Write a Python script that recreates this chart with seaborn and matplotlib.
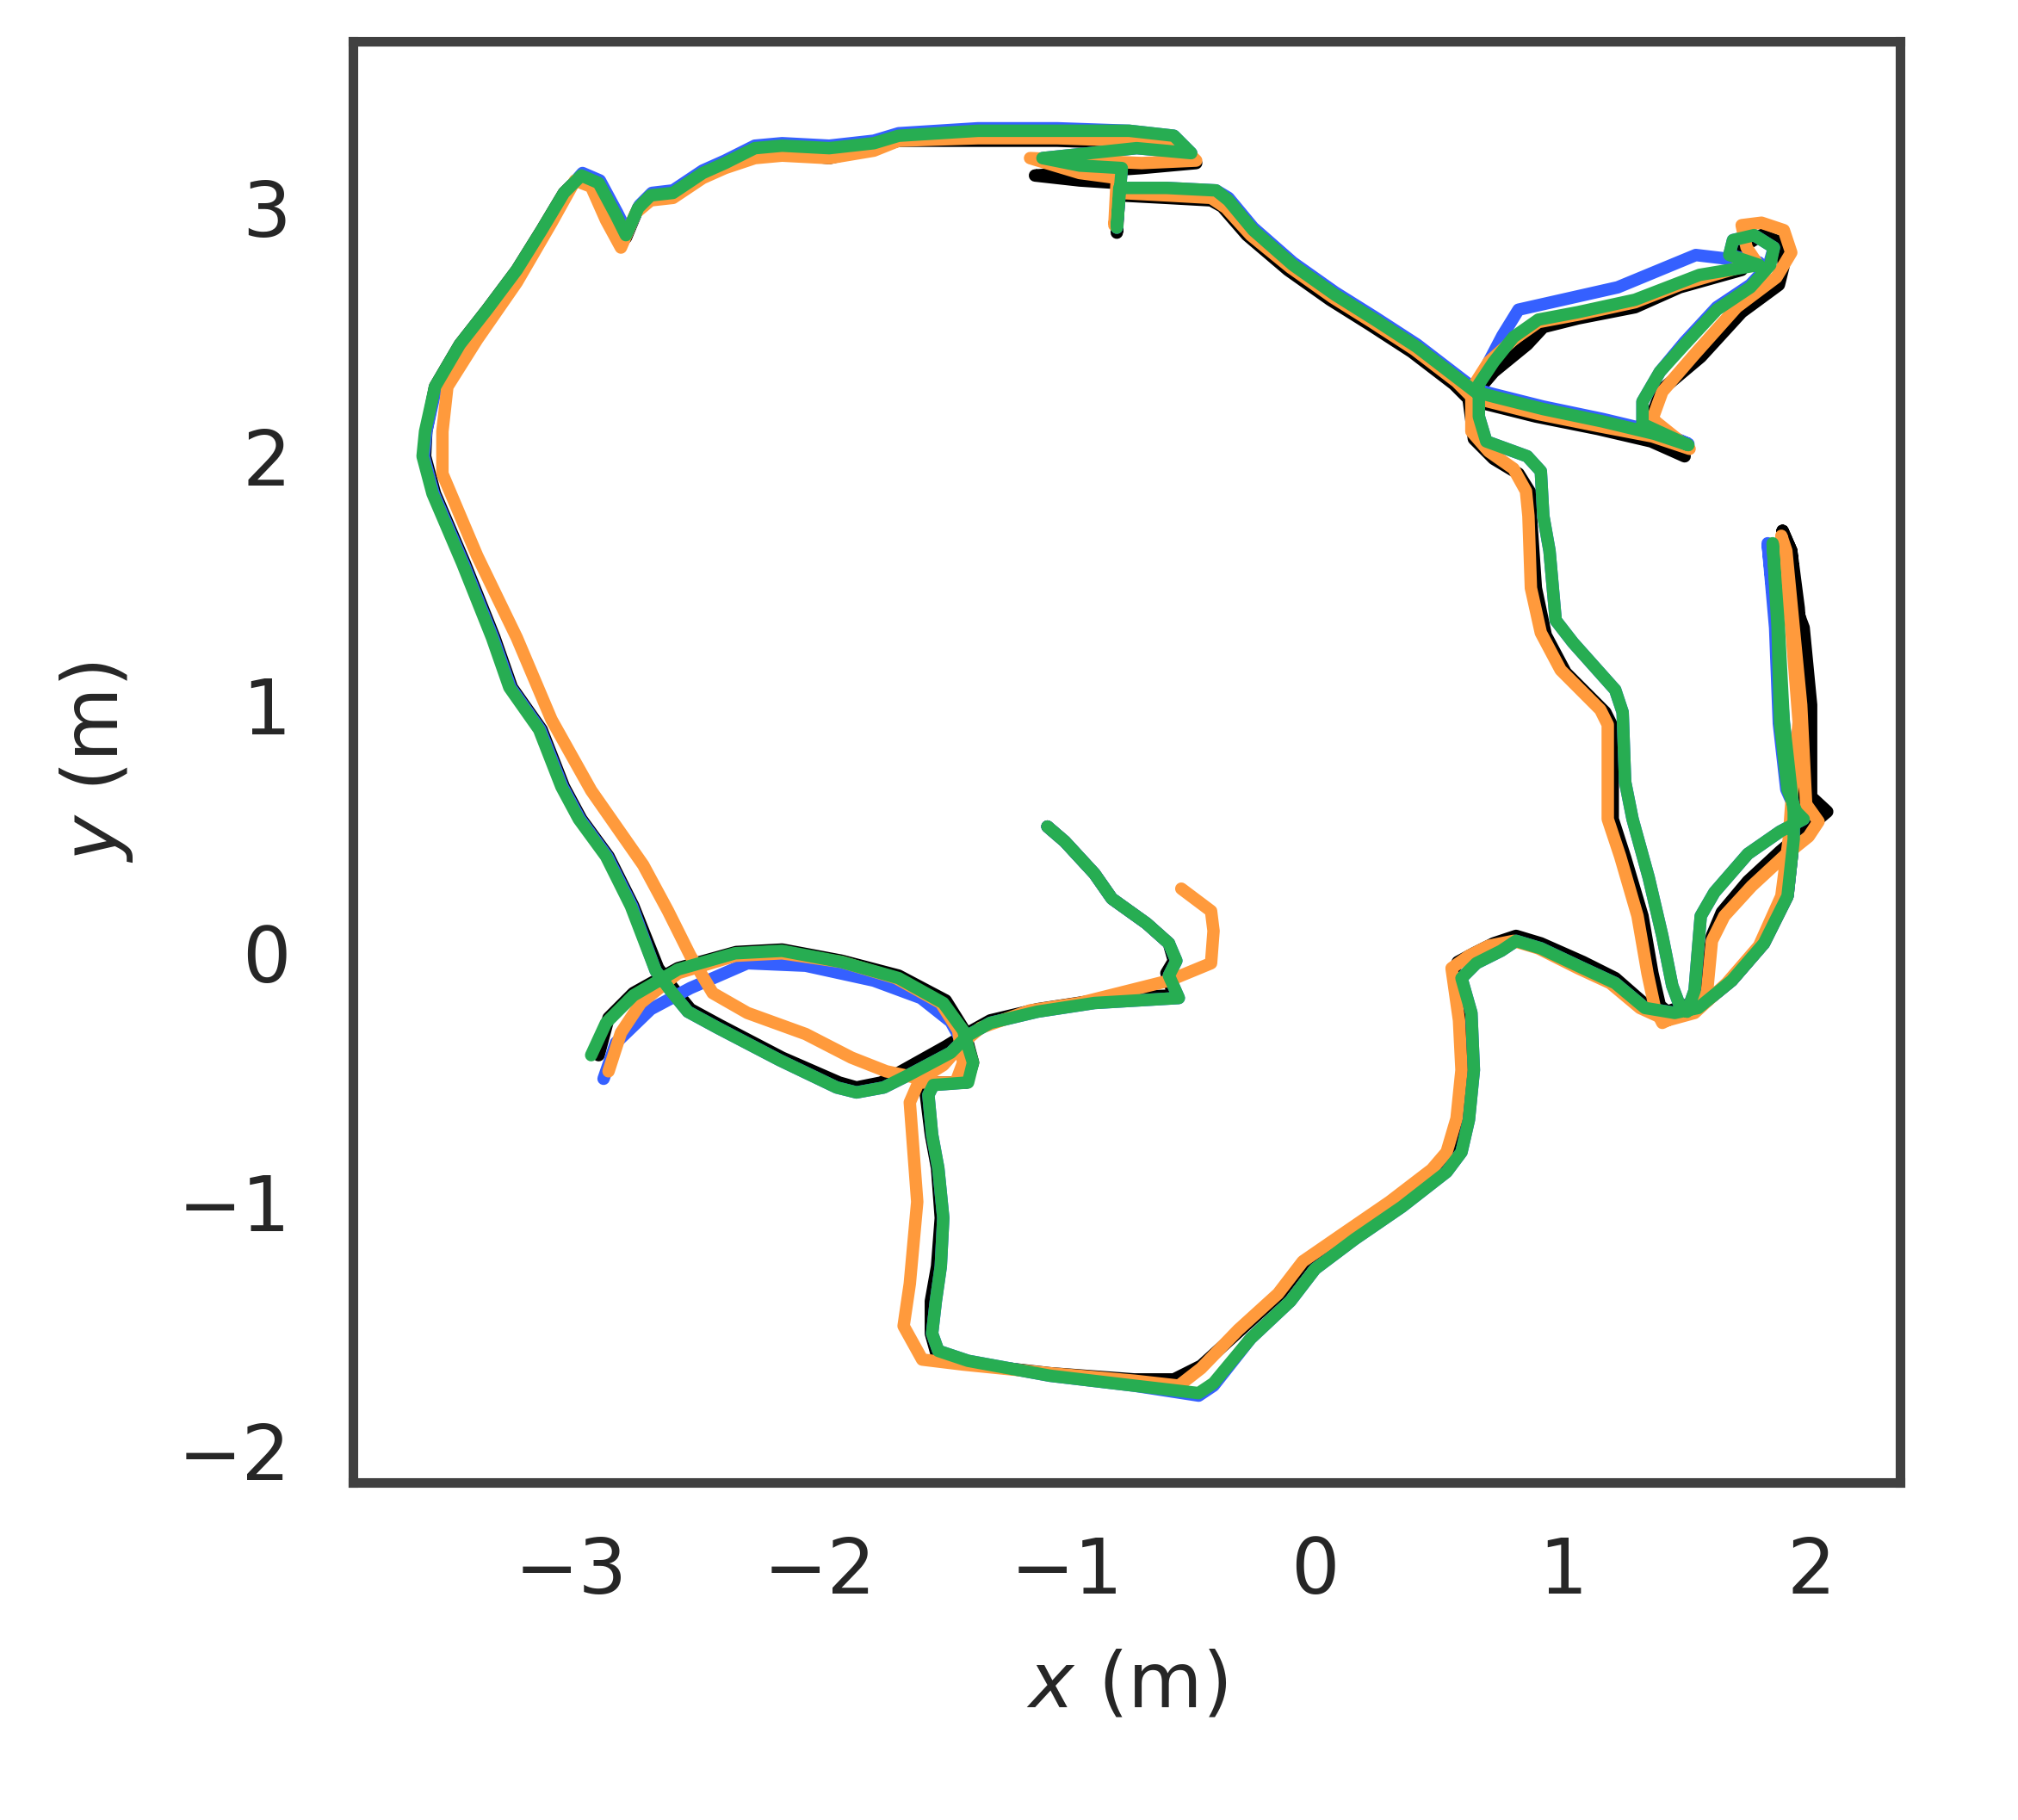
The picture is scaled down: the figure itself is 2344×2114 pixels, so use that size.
import numpy as np
import pandas as pd
import matplotlib
matplotlib.use("Agg")
import matplotlib.pyplot as plt
import seaborn as sns

# ------------------------------------------------------------------
# trajectories (x, y in metres)
# ------------------------------------------------------------------
ground_truth_xy = [
    (-1.08, 0.51), (-1.01, 0.45), (-0.89, 0.32), (-0.82, 0.22), (-0.68, 0.12), (-0.59, 0.04),
    (-0.57, -0.03), (-0.60, -0.08), (-0.57, -0.17),
    (-0.72, -0.175), (-0.89, -0.19), (-1.12, -0.225), (-1.31, -0.27), (-1.40, -0.32),
    (-1.49, -0.375), (-1.66, -0.47), (-1.75, -0.52), (-1.85, -0.54),
    (-1.92, -0.52), (-2.15, -0.42), (-2.40, -0.29), (-2.52, -0.225), (-2.59, -0.14), (-2.65, -0.06),
    (-2.75, 0.19), (-2.85, 0.39), (-2.96, 0.54), (-3.03, 0.67), (-3.12, 0.90), (-3.24, 1.07),
    (-3.31, 1.27), (-3.43, 1.57), (-3.55, 1.85), (-3.59, 2.00), (-3.585, 2.10), (-3.55, 2.28),
    (-3.45, 2.45), (-3.34, 2.59), (-3.22, 2.75), (-3.12, 2.91), (-3.03, 3.06), (-2.96, 3.13),
    (-2.89, 3.10), (-2.82, 2.97), (-2.78, 2.88), (-2.73, 3.00), (-2.68, 3.05), (-2.59, 3.06),
    (-2.47, 3.14), (-2.38, 3.18), (-2.26, 3.22), (-2.15, 3.22), (-1.96, 3.20), (-1.78, 3.24),
    (-1.68, 3.27), (-1.36, 3.27), (-1.04, 3.27),
    (-0.75, 3.26), (-0.55, 3.25), (-0.48, 3.18), (-0.70, 3.16), (-1.13, 3.13), (-0.95, 3.11),
    (-0.80, 3.10), (-0.80, 2.90), (-0.79, 3.05), (-0.60, 3.04), (-0.42, 3.03),
    (-0.375, 3.005), (-0.275, 2.89), (-0.11, 2.75), (0.06, 2.63), (0.22, 2.53), (0.39, 2.42),
    (0.56, 2.29), (0.62, 2.23),
    (0.69, 2.21), (0.89, 2.16), (1.14, 2.11), (1.355, 2.06), (1.49, 2.00),
    (1.355, 2.16), (1.40, 2.27), (1.555, 2.40), (1.72, 2.58), (1.87, 2.69), (1.89, 2.77),
    (1.88, 2.86), (1.80, 2.89), (1.72, 2.84), (1.72, 2.75),
    (1.47, 2.68), (1.29, 2.60), (1.06, 2.555), (0.92, 2.52), (0.855, 2.45), (0.72, 2.34),
    (0.66, 2.27), (0.62, 2.22),
    (0.64, 2.07), (0.72, 1.99), (0.82, 1.93), (0.87, 1.85), (0.87, 1.76), (0.89, 1.47),
    (0.93, 1.28), (1.01, 1.13), (1.17, 0.97), (1.20, 0.91), (1.20, 0.54), (1.25, 0.385),
    (1.32, 0.15), (1.36, -0.08), (1.39, -0.21), (1.42, -0.235),
    (1.52, -0.20), (1.57, -0.175), (1.60, 0.07), (1.64, 0.165), (1.745, 0.29), (1.875, 0.41),
    (1.97, 0.49), (2.065, 0.57), (2.00, 0.63), (2.00, 1.00), (1.97, 1.31), (1.94, 1.39),
    (1.92, 1.62), (1.885, 1.70),
    (1.92, 1.62), (1.95, 1.39), (1.98, 1.00), (1.97, 0.62), (1.93, 0.46),
    (1.905, 0.23), (1.81, 0.04), (1.68, -0.11), (1.545, -0.22), (1.42, -0.235),
    (1.33, -0.205), (1.21, -0.10), (1.08, -0.035), (0.91, 0.04), (0.81, 0.07), (0.72, 0.04),
    (0.64, 0.00), (0.575, -0.035), (0.56, -0.065),
    (0.625, -0.27), (0.615, -0.47), (0.59, -0.665), (0.55, -0.80), (0.49, -0.865), (0.31, -1.00),
    (0.12, -1.13), (-0.04, -1.24), (-0.14, -1.37), (-0.30, -1.515), (-0.46, -1.66),
    (-0.57, -1.715), (-0.73, -1.715), (-1.07, -1.69), (-1.42, -1.65), (-1.525, -1.62),
    (-1.55, -1.53), (-1.55, -1.40), (-1.525, -1.26), (-1.51, -1.065), (-1.525, -0.865),
    (-1.55, -0.73), (-1.57, -0.57), (-1.55, -0.52),
    (-1.405, -0.52), (-1.38, -0.44), (-1.415, -0.31), (-1.49, -0.19), (-1.68, -0.09),
    (-1.91, -0.03), (-2.15, 0.015), (-2.335, 0.005), (-2.57, -0.06), (-2.75, -0.16),
    (-2.85, -0.26), (-2.89, -0.41),
]

green_xy = [
    (-1.08, 0.51), (-1.01, 0.45), (-0.89, 0.32), (-0.82, 0.22), (-0.68, 0.12), (-0.59, 0.04),
    (-0.56, -0.03), (-0.59, -0.09), (-0.55, -0.18),
    (-0.72, -0.19), (-0.89, -0.20), (-1.12, -0.235), (-1.31, -0.28), (-1.40, -0.33),
    (-1.47, -0.40), (-1.64, -0.49), (-1.74, -0.54), (-1.85, -0.56),
    (-1.93, -0.54), (-2.16, -0.43), (-2.41, -0.30), (-2.53, -0.235), (-2.60, -0.15), (-2.66, -0.07),
    (-2.76, 0.19), (-2.86, 0.39), (-2.97, 0.54), (-3.04, 0.67), (-3.13, 0.90), (-3.25, 1.07),
    (-3.32, 1.27), (-3.44, 1.57), (-3.56, 1.85), (-3.60, 2.00), (-3.59, 2.10), (-3.55, 2.28),
    (-3.45, 2.45), (-3.34, 2.59), (-3.22, 2.75), (-3.12, 2.91), (-3.03, 3.06), (-2.96, 3.13),
    (-2.89, 3.10), (-2.82, 2.97), (-2.78, 2.89), (-2.73, 3.00), (-2.68, 3.05), (-2.59, 3.06),
    (-2.47, 3.14), (-2.38, 3.18), (-2.26, 3.24), (-2.15, 3.25), (-1.96, 3.24), (-1.78, 3.26),
    (-1.68, 3.29), (-1.36, 3.31), (-1.04, 3.31),
    (-0.75, 3.31), (-0.57, 3.29), (-0.50, 3.22), (-0.72, 3.24), (-1.10, 3.20), (-0.95, 3.17),
    (-0.78, 3.16), (-0.80, 2.92), (-0.79, 3.08), (-0.60, 3.08), (-0.40, 3.07),
    (-0.35, 3.03), (-0.25, 2.91), (-0.09, 2.77), (0.08, 2.65), (0.24, 2.55), (0.41, 2.44),
    (0.58, 2.31), (0.645, 2.26),
    (0.72, 2.24), (0.92, 2.19), (1.16, 2.14), (1.37, 2.09), (1.505, 2.045),
    (1.32, 2.13), (1.32, 2.22), (1.39, 2.34), (1.49, 2.45), (1.62, 2.59), (1.755, 2.68),
    (1.835, 2.77), (1.85, 2.84), (1.77, 2.89), (1.685, 2.87), (1.67, 2.81), (1.79, 2.77),
    (1.55, 2.73), (1.29, 2.63), (1.06, 2.58), (0.90, 2.55), (0.80, 2.48), (0.72, 2.38),
    (0.66, 2.29),
    (0.66, 2.16), (0.69, 2.06), (0.855, 2.00), (0.91, 1.94), (0.92, 1.76), (0.945, 1.62),
    (0.97, 1.34), (1.04, 1.25), (1.21, 1.06), (1.24, 0.97), (1.25, 0.69), (1.28, 0.54),
    (1.345, 0.305), (1.40, 0.07), (1.44, -0.13), (1.47, -0.21), (1.50, -0.235),
    (1.53, -0.15), (1.555, 0.15), (1.61, 0.245), (1.745, 0.40), (1.875, 0.49), (1.97, 0.54),
    (1.94, 0.57), (1.905, 0.66), (1.875, 0.925), (1.865, 1.31), (1.845, 1.65),
    (1.87, 1.31), (1.89, 0.93), (1.93, 0.57), (1.93, 0.46),
    (1.905, 0.23), (1.81, 0.04), (1.68, -0.11), (1.545, -0.22), (1.45, -0.24),
    (1.33, -0.22), (1.21, -0.12), (1.08, -0.06), (0.91, 0.02), (0.81, 0.05), (0.75, 0.01),
    (0.65, -0.04), (0.59, -0.10),
    (0.63, -0.24), (0.64, -0.47), (0.62, -0.67), (0.59, -0.80), (0.53, -0.88), (0.35, -1.02),
    (0.16, -1.15), (0.00, -1.27), (-0.10, -1.40), (-0.26, -1.55), (-0.41, -1.73),
    (-0.47, -1.77), (-0.73, -1.74), (-1.07, -1.70), (-1.40, -1.64), (-1.52, -1.60),
    (-1.545, -1.53), (-1.53, -1.40), (-1.51, -1.26), (-1.50, -1.065), (-1.52, -0.865),
    (-1.545, -0.73), (-1.56, -0.57), (-1.54, -0.53),
    (-1.40, -0.52), (-1.38, -0.44), (-1.42, -0.31), (-1.50, -0.20), (-1.68, -0.10),
    (-1.91, -0.035), (-2.15, 0.01), (-2.34, 0.00), (-2.57, -0.065), (-2.75, -0.17),
    (-2.86, -0.28), (-2.92, -0.41),
]

blue_xy = [
    (-1.08, 0.51), (-1.01, 0.45), (-0.89, 0.32), (-0.82, 0.22), (-0.68, 0.12), (-0.59, 0.04),
    (-0.56, -0.03), (-0.59, -0.09), (-0.55, -0.18),
    (-0.72, -0.19), (-0.89, -0.20), (-1.12, -0.235), (-1.31, -0.28), (-1.40, -0.33),
    (-1.47, -0.40), (-1.64, -0.49), (-1.74, -0.54), (-1.85, -0.56),
    (-1.93, -0.54), (-2.16, -0.43), (-2.41, -0.30), (-2.53, -0.235), (-2.60, -0.15), (-2.66, -0.07),
    (-2.755, 0.19), (-2.855, 0.39), (-2.965, 0.54), (-3.035, 0.67), (-3.125, 0.90), (-3.245, 1.07),
    (-3.315, 1.27), (-3.435, 1.57), (-3.555, 1.85), (-3.595, 2.00), (-3.585, 2.10), (-3.545, 2.28),
    (-3.445, 2.45), (-3.335, 2.59), (-3.215, 2.75), (-3.115, 2.91), (-3.025, 3.06), (-2.955, 3.14),
    (-2.885, 3.11), (-2.815, 2.98), (-2.775, 2.90), (-2.725, 3.01), (-2.675, 3.06), (-2.59, 3.07),
    (-2.47, 3.15), (-2.38, 3.19), (-2.26, 3.25), (-2.15, 3.26), (-1.96, 3.25), (-1.78, 3.27),
    (-1.68, 3.30), (-1.36, 3.32), (-1.04, 3.32),
    (-0.75, 3.31), (-0.57, 3.29), (-0.50, 3.22), (-0.72, 3.24), (-1.10, 3.20), (-0.95, 3.17),
    (-0.78, 3.16), (-0.80, 2.92), (-0.79, 3.08), (-0.60, 3.08), (-0.40, 3.07),
    (-0.35, 3.04), (-0.25, 2.92), (-0.09, 2.78), (0.08, 2.66), (0.24, 2.56), (0.41, 2.45),
    (0.58, 2.32), (0.645, 2.27),
    (0.72, 2.25), (0.92, 2.20), (1.16, 2.15), (1.37, 2.10), (1.505, 2.05),
    (1.32, 2.13), (1.32, 2.22), (1.39, 2.34), (1.49, 2.46), (1.62, 2.60), (1.755, 2.69),
    (1.83, 2.77), (1.85, 2.84), (1.77, 2.89), (1.685, 2.87), (1.67, 2.81), (1.79, 2.78),
    (1.535, 2.81), (1.22, 2.68), (0.82, 2.59), (0.755, 2.485), (0.70, 2.38), (0.66, 2.29),
    (0.66, 2.16), (0.69, 2.06), (0.855, 2.00), (0.91, 1.94), (0.92, 1.76), (0.945, 1.62),
    (0.97, 1.34), (1.04, 1.25), (1.21, 1.06), (1.24, 0.97), (1.25, 0.69), (1.28, 0.54),
    (1.345, 0.305), (1.40, 0.07), (1.44, -0.13), (1.47, -0.21), (1.50, -0.235),
    (1.53, -0.15), (1.555, 0.15), (1.61, 0.245), (1.745, 0.40), (1.875, 0.49), (1.97, 0.54),
    (1.94, 0.57), (1.90, 0.66), (1.87, 0.925), (1.855, 1.31), (1.825, 1.65),
    (1.86, 1.31), (1.89, 0.93), (1.93, 0.57), (1.93, 0.46),
    (1.905, 0.23), (1.81, 0.04), (1.68, -0.11), (1.545, -0.22), (1.45, -0.24),
    (1.33, -0.22), (1.21, -0.12), (1.08, -0.06), (0.91, 0.02), (0.81, 0.05), (0.75, 0.01),
    (0.65, -0.04), (0.59, -0.10),
    (0.63, -0.24), (0.64, -0.47), (0.62, -0.67), (0.59, -0.80), (0.53, -0.88), (0.35, -1.02),
    (0.16, -1.15), (0.00, -1.27), (-0.10, -1.40), (-0.26, -1.55), (-0.41, -1.74),
    (-0.47, -1.78), (-0.73, -1.74), (-1.07, -1.70), (-1.40, -1.64), (-1.52, -1.60),
    (-1.545, -1.53), (-1.53, -1.40), (-1.51, -1.26), (-1.50, -1.065), (-1.52, -0.865),
    (-1.545, -0.73), (-1.56, -0.57), (-1.54, -0.53),
    (-1.41, -0.52), (-1.40, -0.40), (-1.47, -0.275), (-1.59, -0.18), (-1.78, -0.11),
    (-2.055, -0.05), (-2.29, -0.04), (-2.52, -0.14), (-2.68, -0.225), (-2.82, -0.36),
    (-2.87, -0.505),
]

orange_xy = [
    (-0.54, 0.26), (-0.42, 0.17), (-0.41, 0.09), (-0.42, -0.04), (-0.59, -0.11),
    (-0.75, -0.15), (-0.95, -0.20), (-1.15, -0.23), (-1.35, -0.30), (-1.42, -0.36),
    (-1.50, -0.45), (-1.59, -0.505), (-1.73, -0.475), (-1.87, -0.42), (-2.055, -0.325),
    (-2.29, -0.24), (-2.43, -0.16), (-2.52, -0.01), (-2.61, 0.17), (-2.71, 0.355),
    (-2.92, 0.655), (-3.08, 0.94), (-3.22, 1.27), (-3.38, 1.60), (-3.52, 1.93),
    (-3.52, 2.10), (-3.50, 2.28), (-3.38, 2.47), (-3.22, 2.70), (-3.08, 2.94),
    (-2.985, 3.11), (-2.92, 3.085), (-2.86, 2.95), (-2.80, 2.84), (-2.74, 2.98),
    (-2.68, 3.03), (-2.59, 3.04), (-2.47, 3.12), (-2.38, 3.16), (-2.26, 3.20), (-2.15, 3.21),
    (-1.96, 3.20), (-1.78, 3.23), (-1.68, 3.27), (-1.36, 3.28), (-1.04, 3.28),
    (-0.75, 3.27), (-0.55, 3.26), (-0.48, 3.19), (-0.70, 3.18), (-1.15, 3.20), (-0.95, 3.14),
    (-0.80, 3.12), (-0.81, 2.93), (-0.79, 3.06), (-0.60, 3.05), (-0.42, 3.04),
    (-0.36, 3.00), (-0.26, 2.89), (-0.10, 2.76), (0.07, 2.64), (0.23, 2.54), (0.40, 2.43),
    (0.57, 2.30), (0.63, 2.24),
    (0.70, 2.22), (0.90, 2.17), (1.15, 2.12), (1.36, 2.08), (1.51, 2.03),
    (1.36, 2.15), (1.40, 2.26), (1.53, 2.41), (1.70, 2.60), (1.86, 2.72), (1.92, 2.82),
    (1.89, 2.91), (1.80, 2.94), (1.72, 2.93), (1.74, 2.84), (1.78, 2.78),
    (1.47, 2.69), (1.29, 2.62), (1.06, 2.57), (0.90, 2.54), (0.80, 2.47), (0.70, 2.38),
    (0.63, 2.27),
    (0.63, 2.10), (0.70, 2.02), (0.80, 1.95), (0.85, 1.86), (0.86, 1.76), (0.87, 1.47),
    (0.91, 1.29), (0.99, 1.14), (1.15, 0.98), (1.18, 0.92), (1.18, 0.54), (1.23, 0.39),
    (1.30, 0.15), (1.34, -0.08), (1.37, -0.22), (1.40, -0.28),
    (1.52, -0.22), (1.58, -0.16), (1.60, 0.05), (1.65, 0.15), (1.76, 0.27), (1.89, 0.39),
    (1.99, 0.47), (2.03, 0.53), (1.98, 0.60), (1.96, 1.00), (1.93, 1.31), (1.90, 1.62),
    (1.88, 1.68),
    (1.92, 1.31), (1.95, 0.93), (1.92, 0.60), (1.91, 0.46),
    (1.88, 0.23), (1.79, 0.03), (1.66, -0.12), (1.53, -0.24), (1.42, -0.27),
    (1.31, -0.22), (1.19, -0.12), (1.06, -0.06), (0.90, 0.02), (0.80, 0.05), (0.70, 0.03),
    (0.62, -0.01), (0.55, -0.06),
    (0.58, -0.27), (0.59, -0.47), (0.57, -0.665), (0.53, -0.80), (0.47, -0.87), (0.30, -1.00),
    (0.11, -1.13), (-0.05, -1.24), (-0.15, -1.37), (-0.31, -1.515), (-0.46, -1.67),
    (-0.55, -1.74), (-0.73, -1.72), (-1.07, -1.69), (-1.42, -1.655), (-1.585, -1.635),
    (-1.66, -1.50), (-1.635, -1.33), (-1.605, -1.00), (-1.62, -0.80), (-1.635, -0.60),
    (-1.60, -0.52),
    (-1.45, -0.52), (-1.42, -0.44), (-1.44, -0.31), (-1.51, -0.20), (-1.69, -0.10),
    (-1.91, -0.035), (-2.15, 0.00), (-2.34, -0.01), (-2.57, -0.08), (-2.72, -0.20),
    (-2.80, -0.32), (-2.85, -0.475),
]

series = [
    ("ground truth", ground_truth_xy, "#000000"),
    ("blue", blue_xy, "#3560ff"),
    ("orange", orange_xy, "#ff9a3c"),
    ("green", green_xy, "#27ad52"),
]

# ------------------------------------------------------------------
sns.set_style("white")
plt.rcParams["font.family"] = ["DejaVu Sans"]

fig = plt.figure(figsize=(11.72, 10.57), dpi=200)
ax = fig.add_axes([0.175, 0.1854, 0.7667, 0.7919])

for name, pts, col in series:
    arr = np.array(pts)
    df = pd.DataFrame({"x": arr[:, 0], "y": arr[:, 1]})
    sns.lineplot(data=df, x="x", y="y", sort=False, estimator=None, color=col,
                 lw=5.2, ax=ax, solid_joinstyle="round", solid_capstyle="round")

ax.set_xlim(-3.88, 2.36)
ax.set_ylim(-2.13, 3.67)
ax.set_xticks([-3, -2, -1, 0, 1, 2])
ax.set_yticks([-2, -1, 0, 1, 2, 3])
ax.tick_params(axis="both", length=0, labelsize=32, labelcolor="#262626")
ax.tick_params(axis="x", pad=22)
ax.tick_params(axis="y", pad=26)
ax.set_xlabel("$x$ (m)", fontsize=32, color="#262626", labelpad=16)
ax.set_ylabel("$y$ (m)", fontsize=32, color="#262626", labelpad=18)
for sp in ax.spines.values():
    sp.set_color("#404040")
    sp.set_linewidth(4.0)

fig.savefig("out.png", dpi=200)
